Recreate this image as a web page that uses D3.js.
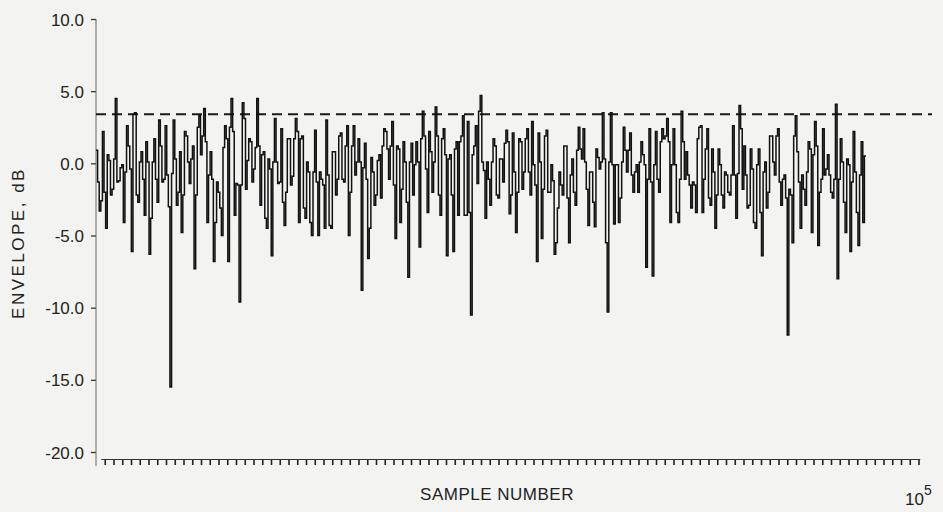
<!DOCTYPE html>
<html>
<head>
<meta charset="utf-8">
<script src="https://cdn.jsdelivr.net/npm/d3@7"></script>
<style>
  html, body { margin: 0; padding: 0; background: #f3f3f1; }
  svg { display: block; }
  text { font-family: "Liberation Sans", Arial, Helvetica, sans-serif; fill: #222; }
</style>
</head>
<body>
<svg id="chart" width="943" height="512"></svg>
<script>
// ---- data (envelope in dB; each pair = one vertical stroke [high, low]) ----
const yTicks = [-20, -15, -10, -5, 0, 5, 10];
const threshold = 3.4;              // dashed reference level, dB
const xTickCount = 94;              // minor tick marks on sample axis
const xLabel = "SAMPLE NUMBER";
const yLabel = "ENVELOPE, dB";

const seg1 = [
  [0.9,-1.3],[-2.6,-3.3],[2.2,-2.0],[0.6,-4.5],[0.2,-2.2],[0.3,-1.8],[4.5,-1.3],[-0.3,-1.2],
  [-0.1,-4.1],[2.6,-0.6],[1.2,-0.4],[3.4,-6.1],[3.5,-2.2],[0.1,-2.7],[0.8,-1.1],[1.5,-3.6],
  [0.1,-6.3],[0.1,-3.8],[1.7,-1.1],[3.0,-2.7],[1.2,-1.3],[2.6,-1.1],[-0.8,-3.0],[-0.7,-15.5],
  [3.0,0.3],[-2.0,-2.9],[0.8,-4.8],[2.2,-2.2],[1.9,0.1],[0.3,-1.4],[1.2,-7.3],[2.5,-2.2],
  [3.3,0.6],[3.8,1.9],[1.5,-4.1],[0.8,-0.8],[-1.1,-6.8],[-1.3,-4.1],[-2.0,-3.1],[1.1,-5.0],
  [2.6,1.7],[2.5,-6.8],[4.5,2.2],[-1.4,-3.6],[-1.5,-9.6],[4.2,-1.5],[3.1,-1.8],[1.7,0.2],
  [1.5,-1.3],[1.1,-0.4],[4.5,1.2],[0.6,-2.9],[0.8,-3.8],[0.3,-4.5],[-0.4,-6.4],[3.1,0.1],
  [0.1,-1.4],[2.4,-1.3]
];
const seg2 = [
  [-2.7,-4.3],[1.7,-2.0],[1.7,-1.5],[1.7,-0.9],[3.1,2.2],[1.7,-4.1],[1.9,-3.1],[0.1,-3.8],
  [-0.6,-4.1],[-0.6,-5.0],[2.3,-1.3],[-0.6,-5.0],[-1.1,-1.5],[3.0,-4.5],[-0.8,-4.3],[0.8,-4.5],
  [0.8,-2.2],[1.9,-1.1],[2.1,-1.1],[1.2,-1.3],[2.6,-5.0],[1.2,-2.0],[2.6,-0.8],[1.7,0.1],
  [0.1,-8.8],[1.4,-0.3],[-1.1,-6.6],[0.4,-4.5],[-0.6,-2.9],[0.2,-2.2],[0.6,-2.4],[2.4,1.2],
  [2.2,1.0],[1.2,-1.1],[2.9,-1.5],[1.2,-5.2],[1.0,-4.1],[1.5,-1.8],[0.1,-2.7],[0.1,-7.9],
  [1.4,-2.2],[1.5,-0.1],[0.1,-5.8],[3.6,1.7],[1.9,-0.4],[2.2,-3.4],[0.8,-2.0],[3.9,0.1],
  [1.9,-2.2],[1.7,-3.6],[2.4,0.6],[0.3,-6.4],[0.6,-2.2],[1.0,-6.1],[1.5,-3.6],[1.9,1.5],
  [3.3,-3.6],[2.9,-3.6],[-3.4,-10.5]
];
const seg3 = [
  [1.2,0.6],[2.6,-1.4],[4.7,3.6],[0.1,-0.5],[0.1,-3.8],[-1.1,-2.9],[1.7,0.1],[1.2,-2.2],
  [0.3,-2.4],[0.3,-1.3],[2.3,1.4],[1.5,-3.5],[2.1,-2.2],[-0.6,-4.8],[1.7,-2.0],[1.5,-1.8],
  [1.7,-0.6],[2.4,-0.6],[2.9,-2.2],[-0.1,-1.5],[2.1,-6.8],[0.1,-5.2],[1.9,-1.8],[2.3,-2.0],
  [-0.1,-2.0],[-1.2,-6.3],[-3.1,-5.5],[-0.6,-1.5],[1.2,-2.2],[1.2,-2.4],[-0.8,-5.5],[0.3,-2.0],
  [0.9,-2.9],[2.5,1.0],[2.4,0.3],[0.1,-1.8],[-0.6,-4.3],[-0.6,-2.7],[1.0,-4.4],[0.4,-0.4],
  [3.5,0.1],[0.3,-5.5],[0.1,-10.3],[3.5,-0.1],[-0.1,-4.2],[-0.1,-4.1],[0.1,-2.4],[2.5,0.9],
  [0.9,-0.6],[2.1,-0.8],[-0.6,-2.0],[-0.1,-2.0],[1.5,0.1],[0.6,-0.1],[-1.1,-7.2],[2.4,-1.3],
  [-0.1,-7.8],[2.2,-1.1],[1.5,-2.0],[2.4,1.7]
];
const seg4 = [
  [3.1,1.9],[1.5,-4.1],[2.4,-0.1],[-0.1,-3.4],[-1.1,-4.1],[3.6,1.5],[0.8,-1.1],[-0.8,-1.5],
  [-1.3,-3.1],[-1.5,-3.4],[2.5,1.7],[2.6,-3.4],[1.0,-1.1],[2.4,-2.4],[1.0,-2.9],[-0.6,-4.5],
  [1.0,-2.2],[-0.1,-2.2],[-0.6,-3.1],[-0.8,-2.0],[-0.8,-2.2],[2.6,-0.8],[-0.7,-3.8],[4.0,2.4],
  [1.2,-1.8],[-0.8,-3.1],[1.0,-2.9],[-0.4,-4.1],[-0.1,-4.5],[1.0,-3.4],[-0.6,-6.4],[0.1,-3.1],
  [1.9,-2.0],[1.9,0.1],[1.9,-0.8],[2.4,-1.3],[-1.1,-2.9],[-0.8,-2.4],[-1.8,-11.9],[-2.2,-5.5],
  [3.3,1.9],[0.8,-1.3],[-0.8,-4.5],[-1.8,-2.9],[1.5,-0.6],[1.0,-4.8],[2.9,0.6],[1.2,-5.7],
  [-1.1,-2.0],[2.4,-0.8],[0.6,-0.4],[-0.8,-2.0],[-1.1,-2.4],[4.1,-8.0],[1.7,-1.1],[0.1,-2.7],
  [0.3,-4.8],[-0.1,-6.1],[2.2,-1.3],[-0.6,-3.4],[-0.8,-5.7],[1.5,-4.1],[0.5,0.5]
];
const dataEnd = 88;   // last sample position, in axis units (x10^3 samples)

// ---- build series ----
const strokes = [].concat(seg1, seg2, seg3, seg4);
const values = [];
strokes.forEach((s, k) => {
  if (k % 2 === 0) { values.push(s[0], s[1]); } else { values.push(s[1], s[0]); }
});
const N = values.length;
const series = values.map((v, i) => ({ x: dataEnd * i / (N - 1), y: v }));

// ---- layout ----
const svg = d3.select("#chart");
const x = d3.scaleLinear().domain([0, 95]).range([96, 927.25]);
const y = d3.scaleLinear().domain([-20, 10]).range([452, 19]);

// y axis
const yAxis = d3.axisLeft(y).tickValues(yTicks).tickSize(5).tickPadding(7)
  .tickFormat(d => d.toFixed(1));
const gy = svg.append("g").attr("transform", "translate(96,0)").call(yAxis);
gy.select(".domain").remove();
gy.selectAll(".tick line").attr("stroke", "#333").attr("stroke-width", 1.3);
gy.selectAll(".tick text").style("font-size", "17px").attr("fill", "#222").attr("dy", "0.36em");
svg.append("line").attr("x1", 96).attr("x2", 96).attr("y1", 19).attr("y2", 466)
  .attr("stroke", "#666").attr("stroke-width", 1);

// x axis (unlabelled tick marks)
const xAxis = d3.axisBottom(x).tickValues(d3.range(1, xTickCount + 1)).tickSize(6).tickFormat("");
const gx = svg.append("g").attr("transform", "translate(0,459)").call(xAxis);
gx.select(".domain").remove();
gx.selectAll(".tick line").attr("stroke", "#222").attr("stroke-width", 1.6);
svg.append("line").attr("x1", x(0.6)).attr("x2", x(94.2)).attr("y1", 459.5).attr("y2", 459.5)
  .attr("stroke", "#333").attr("stroke-width", 1.2);

// dashed threshold line
svg.append("line")
  .attr("x1", x(0)).attr("x2", 932)
  .attr("y1", y(threshold)).attr("y2", y(threshold))
  .attr("stroke", "#1a1a1a").attr("stroke-width", 1.9)
  .attr("stroke-dasharray", "10,6");

// envelope trace
const line = d3.line().x(d => x(d.x)).y(d => y(d.y)).curve(d3.curveStepAfter);
svg.append("path").datum(series)
  .attr("d", line)
  .attr("fill", "none")
  .attr("stroke", "#111")
  .attr("stroke-width", 1.5);

// labels
svg.append("text")
  .attr("transform", "translate(24,243) rotate(-90)")
  .attr("text-anchor", "middle")
  .style("font-size", "17px")
  .style("letter-spacing", "2.5px")
  .text(yLabel);

svg.append("text")
  .attr("x", 497).attr("y", 500)
  .attr("text-anchor", "middle")
  .style("font-size", "17px")
  .style("letter-spacing", "0.5px")
  .text(xLabel);

const exp = svg.append("text").attr("x", 905).attr("y", 505).style("font-size", "17px");
exp.append("tspan").text("10");
exp.append("tspan").attr("dy", -10).style("font-size", "14px").text("5");
</script>
</body>
</html>
